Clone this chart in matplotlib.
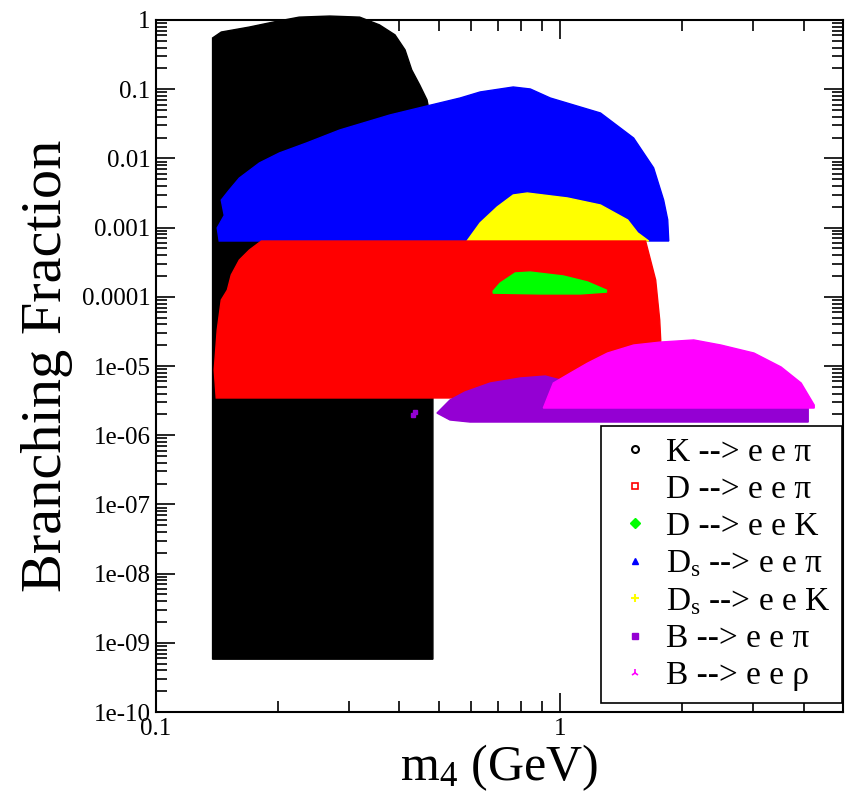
import numpy as np
import matplotlib
matplotlib.use("Agg")
import matplotlib.pyplot as plt
from matplotlib.lines import Line2D
from matplotlib.ticker import FixedLocator, FixedFormatter, NullFormatter

plt.rcParams['font.family'] = ['Liberation Serif', 'DejaVu Serif']
plt.rcParams['mathtext.fontset'] = 'custom'
plt.rcParams['mathtext.rm'] = 'Liberation Serif'
plt.rcParams['mathtext.it'] = 'Liberation Serif:italic'

# boundaries of the scanned regions (m4 in GeV, branching fraction)
k_x = [0.138, 0.138, 0.145, 0.170, 0.196, 0.226, 0.269, 0.319, 0.357, 0.390,
       0.413, 0.429, 0.449, 0.468, 0.484, 0.484]
k_y = [5.8e-10, 0.55, 0.67, 0.79, 0.94, 1.10, 1.14, 1.10, 0.85, 0.61,
       0.37, 0.19, 0.115, 0.07, 0.026, 5.8e-10]

ds_pi_x = [0.1433, 0.1417, 0.1475, 0.1450, 0.1518, 0.1607, 0.1802, 0.2020, 0.2356,
           0.2845, 0.3787, 0.4677, 0.5649, 0.6333, 0.7646, 0.8428, 0.9446, 1.257,
           1.518, 1.701, 1.801, 1.843, 1.854]
ds_pi_y = [6.4e-4, 9.9e-4, 1.5e-3, 2.5e-3, 3.5e-3, 5.2e-3, 8.6e-3, 0.012, 0.0167,
           0.0257, 0.0424, 0.0572, 0.0746, 0.0912, 0.1076, 0.1007, 0.0746, 0.0453,
           0.0197, 7.3e-3, 2.5e-3, 1.3e-3, 6.4e-4]

ds_k_x = [0.5877, 0.6333, 0.6980, 0.7646, 0.8282, 1.041, 1.257, 1.467, 1.553, 1.654]
ds_k_y = [6.4e-4, 1.17e-3, 1.99e-3, 2.96e-3, 3.16e-3, 2.68e-3, 2.12e-3, 1.29e-3,
          8.4e-4, 6.4e-4]

d_pi_x = [0.1409, 1.771, 1.771, 1.761, 1.721, 1.625, 0.1822, 0.1702, 0.1607,
          0.1535, 0.1501, 0.1450, 0.1417, 0.1393, 0.1409]
d_pi_y = [3.45e-6, 3.45e-6, 2.38e-5, 4.62e-5, 1.75e-4, 6.4e-4, 6.4e-4, 4.75e-4,
          3.40e-4, 2.07e-4, 1.25e-4, 8.99e-5, 3.31e-5, 8.75e-6, 3.45e-6]

d_k_x = [0.6821, 0.7098, 0.7732, 0.8428, 1.017, 1.167, 1.300, 1.300, 1.121,
         0.8921, 0.6821]
d_k_y = [1.21e-4, 1.58e-4, 2.21e-4, 2.28e-4, 2.00e-4, 1.64e-4, 1.25e-4, 1.17e-4,
         1.10e-4, 1.10e-4, 1.13e-4]

b_pi_x = [0.4953, 0.5334, 0.5809, 0.6705, 0.7957, 0.9180, 1.0, 4.102, 4.102,
          0.5978, 0.5334, 0.4953]
b_pi_y = [2.09e-6, 3.23e-6, 4.21e-6, 5.68e-6, 6.71e-6, 7.16e-6, 6.28e-6, 2.47e-6,
          1.55e-6, 1.55e-6, 1.66e-6, 2.09e-6]
b_pi_dot_x = [0.4367, 0.4330]
b_pi_dot_y = [2.16e-6, 1.95e-6]

b_rho_x = [0.9076, 0.9283, 0.9608, 1.059, 1.167, 1.308, 1.518, 1.771, 2.138,
           2.495, 3.012, 3.515, 3.940, 4.245, 4.245]
b_rho_y = [2.47e-6, 3.45e-6, 5.68e-6, 7.93e-6, 1.10e-5, 1.54e-5, 2.01e-5, 2.22e-5,
           2.38e-5, 2.01e-5, 1.54e-5, 9.68e-6, 5.68e-6, 2.73e-6, 2.47e-6]

labels = [r"K --> e e π", r"D --> e e π", r"D --> e e K", r"D$_\mathrm{s}$ --> e e π",
          r"D$_\mathrm{s}$ --> e e K", r"B --> e e π", r"B --> e e ρ"]

yticks = [1e-10, 1e-9, 1e-8, 1e-7, 1e-6, 1e-5, 1e-4, 1e-3, 1e-2, 1e-1, 1]
ytick_labels = ["1e-10", "1e-09", "1e-08", "1e-07", "1e-06", "1e-05",
                "0.0001", "0.001", "0.01", "0.1", "1"]

black = "#000000"
red = "#ff0000"
green = "#00ff00"
blue = "#0000ff"
yellow = "#ffff00"
purple = "#9400d3"
magenta = "#ff00ff"

fig = plt.figure(figsize=(8.6, 8.06), dpi=100)
ax = fig.add_axes([0.1814, 0.1166, 0.7988, 0.8586])
ax.set_xscale("log")
ax.set_yscale("log")
ax.set_xlim(0.1, 5.0)
ax.set_ylim(1e-10, 1)

ax.fill(k_x, k_y, color=black, lw=1, clip_on=False, zorder=2)
ax.fill(ds_pi_x, ds_pi_y, color=blue, lw=1, zorder=3)
ax.fill(ds_k_x, ds_k_y, color=yellow, lw=1, zorder=4)
ax.fill(d_pi_x, d_pi_y, color=red, lw=1, zorder=5)
ax.fill(d_k_x, d_k_y, color=green, lw=1, zorder=6)
ax.fill(b_pi_x, b_pi_y, color=purple, lw=1, zorder=7)
ax.plot(b_pi_dot_x, b_pi_dot_y, "s", color=purple, ms=3, zorder=7)
ax.fill(b_rho_x, b_rho_y, color=magenta, lw=1, zorder=8)

ax.yaxis.set_major_locator(FixedLocator(yticks))
ax.yaxis.set_major_formatter(FixedFormatter(ytick_labels))
ax.yaxis.set_minor_locator(FixedLocator(
    [m * 10.0 ** e for e in range(-10, 0) for m in range(2, 10)]))
ax.yaxis.set_minor_formatter(NullFormatter())
ax.xaxis.set_major_locator(FixedLocator([0.1, 1]))
ax.xaxis.set_major_formatter(FixedFormatter(["0.1", "1"]))
ax.xaxis.set_minor_locator(FixedLocator(
    [0.2, 0.3, 0.4, 0.5, 0.6, 0.7, 0.8, 0.9, 2, 3, 4, 5]))
ax.xaxis.set_minor_formatter(NullFormatter())

ax.tick_params(which="both", direction="in", top=True, right=True, width=1.2,
               labelsize=18, colors="black")
ax.tick_params(which="major", length=13.5, pad=4)
ax.tick_params(which="minor", length=8)
for s in ax.spines.values():
    s.set_linewidth(1.5)
    s.set_zorder(1)

ax.set_xlabel(r"m$_4$ (GeV)", fontsize=36, labelpad=2)
ax.set_ylabel("Branching Fraction", fontsize=42, labelpad=6)

handles = [
    Line2D([], [], ls="none", marker="o", mfc="none", mec=black, ms=5, mew=1.5),
    Line2D([], [], ls="none", marker="s", mfc="none", mec=red, ms=5, mew=1.2),
    Line2D([], [], ls="none", marker="D", color=green, ms=5),
    Line2D([], [], ls="none", marker="^", color=blue, ms=5),
    Line2D([], [], ls="none", marker="+", color=yellow, ms=6, mew=1.5),
    Line2D([], [], ls="none", marker="s", color=purple, ms=5),
    Line2D([], [], ls="none", marker="2", color=magenta, ms=6, mew=1.2),
]
leg = ax.legend(handles, labels, loc="lower right", bbox_to_anchor=(0.999, 0.013),
                borderaxespad=0, fontsize=24, frameon=True, fancybox=False,
                edgecolor="black", framealpha=1, handlelength=1.3,
                handletextpad=0.3, labelspacing=0.2, borderpad=0.35)
leg.get_frame().set_linewidth(1.2)
leg.set_zorder(10)

fig.savefig("out.png", dpi=100)
